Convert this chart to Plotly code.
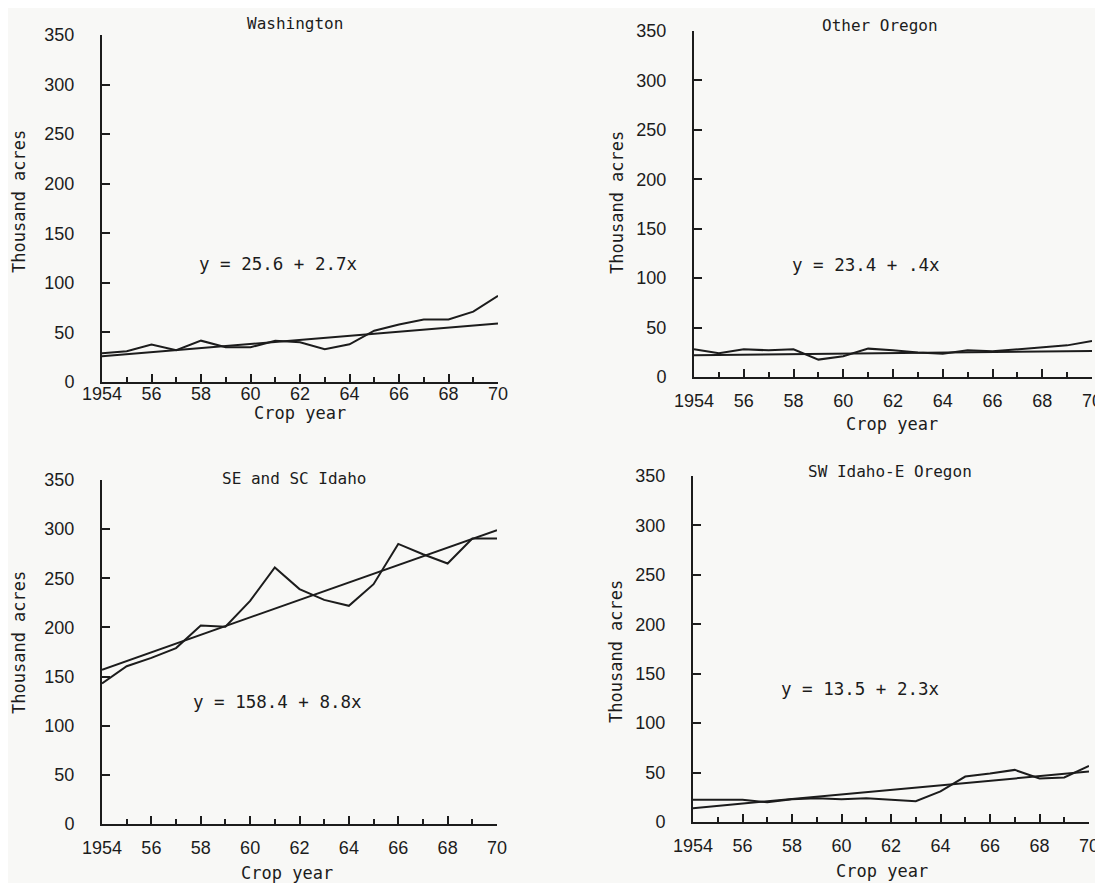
import plotly.graph_objects as go

years = list(range(1954, 1971))

washington = [29, 31, 37.7, 32, 41.7, 35, 35, 41.7, 40, 33, 38, 51.7, 58, 63, 63, 71, 87]
other_oregon = [28, 24, 28, 27, 28, 17.6, 21, 28.7, 27, 24.7, 23.6, 27, 26, 28, 29.7, 32, 36.5]
se_sc_idaho = [143, 160.5, 169, 179, 202, 200.7, 227, 261, 239, 228, 222, 244, 285, 274.5, 265, 290.5, 290.5]
sw_idaho_e_oregon = [22.5, 22.5, 22.5, 20, 23, 24, 23, 24, 22.5, 21, 31, 46, 49, 52.7, 44, 45, 56.7]

trend_years = [1954, 1970]
washington_trend = [26, 59]
other_oregon_trend = [22, 26.4]
se_sc_idaho_trend = [157, 299]
sw_idaho_e_oregon_trend = [14, 51]

panel_titles = ["Washington", "Other Oregon", "SE and SC Idaho", "SW Idaho-E Oregon"]
equations = ["y = 25.6 + 2.7x", "y = 23.4 + .4x", "y = 158.4 + 8.8x", "y = 13.5 + 2.3x"]
eq_pos = [(1961.1, 119), (1960.9, 113), (1961.1, 124), (1960.75, 135)]

x_tickvals = list(range(1954, 1971, 2))
x_ticktext = ["1954", "56", "58", "60", "62", "64", "66", "68", "70"]
y_tickvals = [0, 50, 100, 150, 200, 250, 300, 350]

OFF = 8  # page body margin
W, H = 1103 - OFF, 891 - 2 * OFF


def px(x):
    return (x - OFF) / W


def py(y):
    return 1 - (y - OFF) / H


# page-pixel boxes: (x0, x1, ybottom, ytop)
boxes = [(102, 498, 382, 35), (694, 1092, 377, 31), (102, 497, 824, 480), (693, 1089, 822, 476)]
x_label_standoff = [-6, 6, 6, 6]

series = [washington, other_oregon, se_sc_idaho, sw_idaho_e_oregon]
trends = [washington_trend, other_oregon_trend, se_sc_idaho_trend, sw_idaho_e_oregon_trend]

INK = "#1c1c1c"
MONO = "DejaVu Sans Mono, monospace"
SANS = "Liberation Sans, Arial, sans-serif"

fig = go.Figure()
layout = dict(
    width=W, height=H, margin=dict(l=0, r=0, t=0, b=0, autoexpand=False),
    paper_bgcolor="#f8f8f6", plot_bgcolor="rgba(0,0,0,0)", showlegend=False,
)
annotations = []

title_px = [(295, 24), (880, 25), (294, 478), (890, 471)]
ytitle_px = [(19, 202), (617, 203), (19, 643), (616, 652)]
xtitle_px = [(300, 413), (892, 424), (287, 873), (882, 871)]

for i in range(4):
    n = "" if i == 0 else str(i + 1)
    x0, x1, yb, yt = boxes[i]
    xa = dict(
        domain=[px(x0), px(x1)], range=[1954, 1970], anchor="y" + n, automargin=False,
        tickvals=x_tickvals, ticktext=x_ticktext, ticks="inside", ticklen=8, tickwidth=2,
        tickcolor=INK, showline=True, linecolor=INK, linewidth=2, showgrid=False, zeroline=False,
        tickfont=dict(family=SANS, size=18, color=INK), ticklabelstandoff=x_label_standoff[i],
        ticklabeloverflow="allow",
        minor=dict(ticks="inside", tick0=1954, dtick=1, ticklen=5, tickwidth=2, tickcolor=INK, showgrid=False),
    )
    ya = dict(
        domain=[py(yb), py(yt)], range=[0, 350], anchor="x" + n, automargin=False,
        tickvals=y_tickvals, ticks="inside", ticklen=8, tickwidth=2, tickcolor=INK,
        showline=True, linecolor=INK, linewidth=2, showgrid=False, zeroline=False,
        tickfont=dict(family=SANS, size=18, color=INK), ticklabelstandoff=22,
    )
    layout["xaxis" + n] = xa
    layout["yaxis" + n] = ya

    fig.add_trace(go.Scatter(x=years, y=series[i], mode="lines", xaxis="x" + n, yaxis="y" + n,
                             line=dict(color=INK, width=2), cliponaxis=False))
    fig.add_trace(go.Scatter(x=trend_years, y=trends[i], mode="lines", xaxis="x" + n, yaxis="y" + n,
                             line=dict(color=INK, width=2), cliponaxis=False))

    annotations.append(dict(x=eq_pos[i][0], y=eq_pos[i][1], xref="x" + n, yref="y" + n,
                            xanchor="center", yanchor="middle",
                            text=equations[i], showarrow=False,
                            font=dict(family=MONO, size=17.5, color=INK)))
    tx, ty = title_px[i]
    annotations.append(dict(x=px(tx), y=py(ty), xref="paper", yref="paper", text=panel_titles[i],
                            xanchor="center", yanchor="middle",
                            showarrow=False, font=dict(family=MONO, size=16, color=INK)))
    ax_, ay_ = ytitle_px[i]
    annotations.append(dict(x=px(ax_), y=py(ay_), xref="paper", yref="paper", text="Thousand acres",
                            xanchor="center", yanchor="middle",
                            showarrow=False, textangle=-90, font=dict(family=MONO, size=17, color=INK)))
    cx, cy = xtitle_px[i]
    annotations.append(dict(x=px(cx), y=py(cy), xref="paper", yref="paper", text="Crop year",
                            xanchor="center", yanchor="middle",
                            showarrow=False, font=dict(family=MONO, size=17, color=INK)))

layout["annotations"] = annotations
fig.update_layout(**layout)
fig.write_html("out.html")
